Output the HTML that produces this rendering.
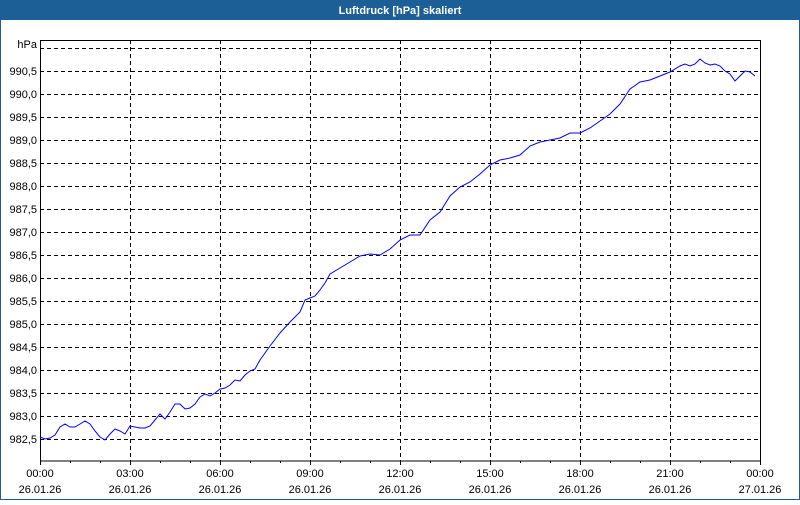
<!DOCTYPE html>
<html><head><meta charset="utf-8"><style>
body{margin:0;width:800px;height:500px;overflow:hidden;background:#fff;font-family:"Liberation Sans","DejaVu Sans",sans-serif}
</style></head><body>
<svg width="800" height="500" xmlns="http://www.w3.org/2000/svg" font-family="Liberation Sans, DejaVu Sans, sans-serif" font-size="11">
<rect x="0" y="0" width="800" height="500" fill="#1c5f96"/>
<rect x="1" y="20" width="798" height="479" fill="#fff"/>
<text x="400" y="14" fill="#fff" font-weight="bold" text-anchor="middle">Luftdruck [hPa] skaliert</text>
<g stroke="#000" stroke-width="1" stroke-dasharray="4,3" fill="none">
<path d="M40 48.5H760M40 71.5H760M40 94.5H760M40 117.5H760M40 140.5H760M40 163.5H760M40 186.5H760M40 209.5H760M40 232.5H760M40 255.5H760M40 278.5H760M40 301.5H760M40 324.5H760M40 347.5H760M40 370.5H760M40 393.5H760M40 416.5H760M40 439.5H760"/>
<path d="M130.5 40V461M220.5 40V461M310.5 40V461M400.5 40V461M490.5 40V461M580.5 40V461M670.5 40V461"/>
</g>
<rect x="40.5" y="40.5" width="720" height="420.5" fill="none" stroke="#000"/>
<g stroke="#000"><path d="M40.5 461v4M70.5 461v2M100.5 461v2M130.5 461v4M160.5 461v2M190.5 461v2M220.5 461v4M250.5 461v2M280.5 461v2M310.5 461v4M340.5 461v2M370.5 461v2M400.5 461v4M430.5 461v2M460.5 461v2M490.5 461v4M520.5 461v2M550.5 461v2M580.5 461v4M610.5 461v2M640.5 461v2M670.5 461v4M700.5 461v2M730.5 461v2M760.5 461v4"/></g>
<g text-anchor="end" fill="#000">
<text x="37" y="48">hPa</text>
<text x="37" y="75">990,5</text><text x="37" y="98">990,0</text><text x="37" y="121">989,5</text><text x="37" y="144">989,0</text><text x="37" y="167">988,5</text><text x="37" y="190">988,0</text><text x="37" y="213">987,5</text><text x="37" y="236">987,0</text><text x="37" y="259">986,5</text><text x="37" y="282">986,0</text><text x="37" y="305">985,5</text><text x="37" y="328">985,0</text><text x="37" y="351">984,5</text><text x="37" y="374">984,0</text><text x="37" y="397">983,5</text><text x="37" y="420">983,0</text><text x="37" y="443">982,5</text>
</g>
<g text-anchor="middle" fill="#000">
<text x="40" y="477">00:00</text><text x="40" y="493">26.01.26</text>
<text x="130" y="477">03:00</text><text x="130" y="493">26.01.26</text>
<text x="220" y="477">06:00</text><text x="220" y="493">26.01.26</text>
<text x="310" y="477">09:00</text><text x="310" y="493">26.01.26</text>
<text x="400" y="477">12:00</text><text x="400" y="493">26.01.26</text>
<text x="490" y="477">15:00</text><text x="490" y="493">26.01.26</text>
<text x="580" y="477">18:00</text><text x="580" y="493">26.01.26</text>
<text x="670" y="477">21:00</text><text x="670" y="493">26.01.26</text>
<text x="760" y="477">00:00</text><text x="760" y="493">27.01.26</text>
</g>
<polyline fill="none" stroke="#0000ff" stroke-width="1" points="40,437 45,439 50,438 55,435 60,427 65,424 70,427 75,427 80,424 85,421 90,424 95,431 100,437 105,440 110,434 115,429 120,431 125,434 130,426 135,427 140,428 145,428 150,426 155,420 160,414 165,419 170,412 175,404 180,404 185,409 190,408 195,404 200,397 205,394 210,396 215,393 220,389 225,388 230,385 235,380 240,381 245,375 250,371 255,369 260,360 270,346 280,333 290,322 300,312 305,300 310,298 315,296 320,290 325,283 330,274 335,271 340,268 350,262 360,256 370,254 380,255 390,249 400,240 410,235 420,235 430,220 440,212 450,196 460,187 470,182 480,174 490,165 500,160 510,158 520,155 530,146 540,142 550,140 560,138 570,133 580,133 590,128 600,121 610,114 620,104 630,89 640,82 650,80 660,76 670,72 680,66 685,64 690,66 695,64 700,59 705,63 710,65 715,64 720,66 725,71 730,74 735,81 740,76 745,71 750,72 755,76"/>
</svg>
</body></html>
